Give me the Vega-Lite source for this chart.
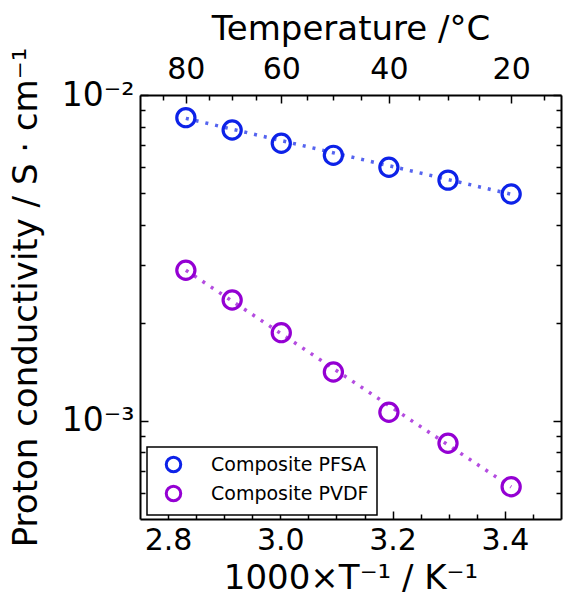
{
  "$schema": "https://vega.github.io/schema/vega-lite/v6.json",
  "width": 421,
  "height": 424,
  "autosize": {"type": "none"},
  "padding": {"left": 140, "top": 95, "right": 2, "bottom": 81},
  "background": "white",
  "config": {
    "font": "DejaVu Sans",
    "view": {"stroke": null},
    "legend": {"strokeWidth": 1.5},
    "axis": {"grid": false, "domainColor": "black", "domainWidth": 2, "tickColor": "black", "tickWidth": 1.5, "labelColor": "black", "titleColor": "black", "labelFont": "DejaVu Sans", "titleFont": "DejaVu Sans", "labelFontSize": 30, "titleFontSize": 34, "titleFontWeight": "normal"}
  },
  "datasets": {
    "points": [
      {"series": "Composite PFSA", "T": 80, "x": 2.8317, "sigma": 0.00852},
      {"series": "Composite PFSA", "T": 70, "x": 2.9142, "sigma": 0.00781},
      {"series": "Composite PFSA", "T": 60, "x": 3.0017, "sigma": 0.00711},
      {"series": "Composite PFSA", "T": 50, "x": 3.0945, "sigma": 0.00653},
      {"series": "Composite PFSA", "T": 40, "x": 3.1934, "sigma": 0.00600},
      {"series": "Composite PFSA", "T": 30, "x": 3.2987, "sigma": 0.00548},
      {"series": "Composite PFSA", "T": 20, "x": 3.4112, "sigma": 0.00497},
      {"series": "Composite PVDF", "T": 80, "x": 2.8317, "sigma": 0.00290},
      {"series": "Composite PVDF", "T": 70, "x": 2.9142, "sigma": 0.00235},
      {"series": "Composite PVDF", "T": 60, "x": 3.0017, "sigma": 0.001865},
      {"series": "Composite PVDF", "T": 50, "x": 3.0945, "sigma": 0.001413},
      {"series": "Composite PVDF", "T": 40, "x": 3.1934, "sigma": 0.001063},
      {"series": "Composite PVDF", "T": 30, "x": 3.2987, "sigma": 0.000854},
      {"series": "Composite PVDF", "T": 20, "x": 3.4112, "sigma": 0.000628}
    ],
    "fits": [
      {"series": "Composite PFSA", "x": 2.8317, "sigma": 0.00848},
      {"series": "Composite PFSA", "x": 3.4112, "sigma": 0.00496},
      {"series": "Composite PVDF", "x": 2.8317, "sigma": 0.00290},
      {"series": "Composite PVDF", "x": 3.4112, "sigma": 0.000627}
    ]
  },
  "layer": [
    {
      "data": {"name": "fits"},
      "mark": {"type": "line", "strokeDash": [3, 7], "strokeWidth": 3.5, "strokeCap": "butt", "opacity": 0.7},
      "encoding": {
        "x": {"field": "x", "type": "quantitative", "scale": {"domain": [2.75, 3.5], "nice": false, "zero": false},
          "axis": {"orient": "bottom", "values": [2.8, 3.0, 3.2, 3.4], "format": ".1f", "tickSize": -8, "labelPadding": 14, "title": "1000×T⁻¹ / K⁻¹", "titlePadding": 6}},
        "y": {"field": "sigma", "type": "quantitative", "scale": {"type": "log", "domain": [0.0005, 0.01], "nice": false},
          "axis": {"orient": "left", "values": [0.001, 0.01], "labelExpr": "datum.value > 0.005 ? '10⁻²' : '10⁻³'", "labelFontSize": 33, "tickSize": -8, "labelPadding": 14, "title": "Proton conductivity / S · cm⁻¹", "titleX": -97, "titleY": 202}},
        "color": {"field": "series", "type": "nominal", "scale": {"domain": ["Composite PFSA", "Composite PVDF"], "range": ["#0d22e8", "#9400d3"]}, "legend": null}
      }
    },
    {
      "data": {"name": "points"},
      "mark": {"type": "point", "shape": "circle", "filled": false, "size": 330, "strokeWidth": 3.2, "opacity": 1},
      "encoding": {
        "x": {"field": "x", "type": "quantitative", "scale": {"domain": [2.75, 3.5], "nice": false, "zero": false},
          "axis": {"orient": "top", "values": [2.8317, 3.0017, 3.1934, 3.4112], "labelExpr": "round(1000 / datum.value - 273.15)", "tickSize": -8, "labelPadding": 19, "title": "Temperature /°C", "titlePadding": 8}},
        "y": {"field": "sigma", "type": "quantitative", "scale": {"type": "log", "domain": [0.0005, 0.01], "nice": false},
          "axis": {"orient": "right", "values": [0.001, 0.01], "labels": false, "tickSize": -8, "title": null}},
        "color": {"field": "series", "type": "nominal", "scale": {"domain": ["Composite PFSA", "Composite PVDF"], "range": ["#0d22e8", "#9400d3"]},
          "legend": {"orient": "none", "legendX": 7, "legendY": 352, "title": null, "strokeColor": "black", "fillColor": "white", "padding": 8, "symbolType": "circle", "symbolFillColor": "transparent", "symbolStrokeWidth": 3, "symbolSize": 210, "symbolOffset": 9, "labelOffset": 28, "labelFontSize": 19, "labelFont": "DejaVu Sans", "labelColor": "black", "rowPadding": 2, "cornerRadius": 0}}
      }
    },
    {
      "data": {"name": "points"},
      "mark": {"type": "point", "opacity": 0},
      "encoding": {
        "x": {"field": "x", "type": "quantitative", "scale": {"domain": [2.75, 3.5], "nice": false, "zero": false},
          "axis": {"orient": "bottom", "values": [2.85, 2.9, 2.95, 3.05, 3.1, 3.15, 3.25, 3.3, 3.35, 3.45], "labels": false, "domain": false, "tickSize": -5, "title": null}},
        "y": {"field": "sigma", "type": "quantitative", "scale": {"type": "log", "domain": [0.0005, 0.01], "nice": false},
          "axis": {"orient": "left", "values": [0.0006, 0.0007, 0.0008, 0.0009, 0.002, 0.003, 0.004, 0.005, 0.006, 0.007, 0.008, 0.009], "labels": false, "domain": false, "tickSize": -5, "title": null}}
      }
    },
    {
      "data": {"name": "points"},
      "mark": {"type": "point", "opacity": 0},
      "encoding": {
        "x": {"field": "x", "type": "quantitative", "scale": {"domain": [2.75, 3.5], "nice": false, "zero": false},
          "axis": {"orient": "top", "values": [2.7917, 2.8723, 2.9142, 2.9573, 3.0468, 3.0945, 3.1437, 3.2467, 3.2987, 3.3540, 3.4704], "labels": false, "domain": false, "tickSize": -5, "title": null}},
        "y": {"field": "sigma", "type": "quantitative", "scale": {"type": "log", "domain": [0.0005, 0.01], "nice": false},
          "axis": {"orient": "right", "values": [0.0006, 0.0007, 0.0008, 0.0009, 0.002, 0.003, 0.004, 0.005, 0.006, 0.007, 0.008, 0.009], "labels": false, "domain": false, "tickSize": -5, "title": null}}
      }
    }
  ],
  "resolve": {"scale": {"color": "independent"}, "axis": {"x": "independent", "y": "independent"}}
}
